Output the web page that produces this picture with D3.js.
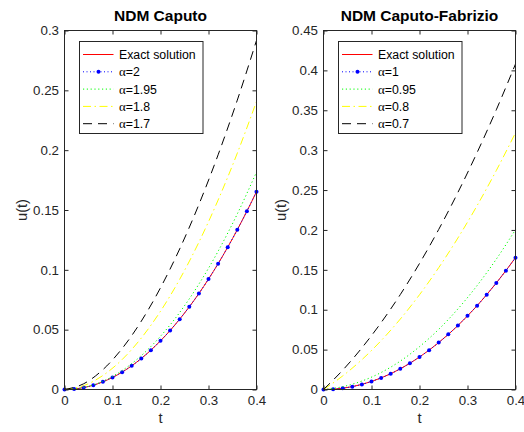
<!DOCTYPE html>
<html><head><meta charset="utf-8">
<script src="https://cdn.jsdelivr.net/npm/d3@7"></script>
<style>
body{margin:0;background:#fff}
svg{display:block}
text{font-family:"Liberation Sans",Arial,Helvetica,sans-serif}
</style>
</head><body>
<svg id="chart" width="524" height="432"></svg>
<script>
// ---------- data ----------
const tFine = [0,0.02,0.04,0.06,0.08,0.10,0.12,0.14,0.16,0.18,0.20,0.22,0.24,0.26,0.28,0.30,0.32,0.34,0.36,0.38,0.40];
const tCoarse = [0,0.04,0.08,0.12,0.16,0.20,0.24,0.28,0.32,0.36,0.40];

const exactSolution = [0,0.0004,0.0016,0.0036,0.0064,0.0101,0.0145,0.0198,0.0259,0.0329,0.0407,0.0493,0.0588,0.0691,0.0802,0.0923,0.1051,0.1189,0.1335,0.1490,0.1653];

// NDM Caputo (left)
const caputoA200 = [0,0.0004,0.0016,0.0036,0.0064,0.0101,0.0145,0.0198,0.0259,0.0329,0.0407,0.0493,0.0588,0.0691,0.0802,0.0923,0.1051,0.1189,0.1335,0.1490,0.1653];
const caputoA195 = [0,0.0017,0.0069,0.0158,0.0283,0.0445,0.0644,0.0881,0.1155,0.1467,0.1817];
const caputoA180 = [0,0.0032,0.0117,0.0250,0.0430,0.0654,0.0921,0.1231,0.1583,0.1975,0.2407];
const caputoA170 = [0,0.0048,0.0166,0.0342,0.0571,0.0850,0.1175,0.1546,0.1961,0.2418,0.2917];

// NDM Caputo-Fabrizio (right)
const cfA100 = [0,0.0004,0.0016,0.0036,0.0064,0.0101,0.0145,0.0198,0.0259,0.0329,0.0407,0.0493,0.0588,0.0691,0.0802,0.0923,0.1051,0.1189,0.1335,0.1490,0.1653];
const cfA095 = [0,0.0035,0.0106,0.0213,0.0356,0.0537,0.0754,0.1010,0.1303,0.1634,0.2003];
const cfA080 = [0,0.0170,0.0374,0.0612,0.0883,0.1188,0.1527,0.1899,0.2305,0.2745,0.3218];
const cfA070 = [0,0.0242,0.0522,0.0838,0.1190,0.1580,0.2006,0.2470,0.2970,0.3506,0.4080];

const xTicks = [0,0.1,0.2,0.3,0.4];
const xTickLabels = ["0","0.1","0.2","0.3","0.4"];
const leftYTicks = [0,0.05,0.1,0.15,0.2,0.25,0.3];
const leftYTickLabels = ["0","0.05","0.1","0.15","0.2","0.25","0.3"];
const rightYTicks = [0,0.05,0.1,0.15,0.2,0.25,0.3,0.35,0.4,0.45];
const rightYTickLabels = ["0","0.05","0.1","0.15","0.2","0.25","0.3","0.35","0.4","0.45"];

const leftLegend = ["Exact solution","=2","=1.95","=1.8","=1.7"];
const rightLegend = ["Exact solution","=1","=0.95","=0.8","=0.7"];

// ---------- drawing ----------
const svg = d3.select("#chart");
const axisColor = "#262626";
const styles = [
  {stroke:"#ff0000", dash:null, marker:false},
  {stroke:"#0000ff", dash:"1,2.5", marker:true},
  {stroke:"#00ff00", dash:"1.2,2.6", marker:false},
  {stroke:"#ffff00", dash:"8,3.5,1.5,3.5", marker:false},
  {stroke:"#000000", dash:"9,6", marker:false}
];

const panels = [
  {title:"NDM Caputo", x0:64.5, x1:256.5, yMax:0.3, yTicks:leftYTicks, yLabels:leftYTickLabels,
   series:[[tFine,exactSolution],[tFine,caputoA200],[tCoarse,caputoA195],[tCoarse,caputoA180],[tCoarse,caputoA170]],
   legend:leftLegend, legX:79.5},
  {title:"NDM Caputo-Fabrizio", x0:323.5, x1:515.5, yMax:0.45, yTicks:rightYTicks, yLabels:rightYTickLabels,
   series:[[tFine,exactSolution],[tFine,cfA100],[tCoarse,cfA095],[tCoarse,cfA080],[tCoarse,cfA070]],
   legend:rightLegend, legX:338.5}
];

const yTop = 30.5, yBot = 389.5;
const tickFont = "13.3px";

panels.forEach(p => {
  const x = d3.scaleLinear().domain([0,0.4]).range([p.x0,p.x1]);
  const y = d3.scaleLinear().domain([0,p.yMax]).range([yBot,yTop]);
  const g = svg.append("g");

  g.append("rect").attr("x",p.x0).attr("y",yTop).attr("width",p.x1-p.x0).attr("height",yBot-yTop).attr("fill","#fff");

  // lines
  p.series.forEach((s,i) => {
    const pts = s[0].map((t,k)=>[t,s[1][k]]);
    const line = d3.line().x(d=>x(d[0])).y(d=>y(d[1])).curve(d3.curveMonotoneX);
    g.append("path").attr("d",line(pts)).attr("fill","none")
      .attr("stroke",styles[i].stroke).attr("stroke-width",1)
      .attr("stroke-dasharray",styles[i].dash);
    if (styles[i].marker) {
      g.selectAll(null).data(pts).enter().append("circle")
        .attr("cx",d=>x(d[0])).attr("cy",d=>y(d[1])).attr("r",2)
        .attr("fill",styles[i].stroke);
    }
  });

  // axes (ticks inward)
  const fmtX = (d)=>xTickLabels[xTicks.indexOf(d)];
  const fmtY = (d)=>p.yLabels[p.yTicks.indexOf(d)];
  const ax = g.append("g").attr("transform",`translate(0,${yBot})`)
    .call(d3.axisBottom(x).tickValues(xTicks).tickFormat(fmtX).tickSizeInner(-4).tickSizeOuter(0).tickPadding(6));
  const axT = g.append("g").attr("transform",`translate(0,${yTop})`)
    .call(d3.axisTop(x).tickValues(xTicks).tickFormat("").tickSizeInner(-4).tickSizeOuter(0));
  const ay = g.append("g").attr("transform",`translate(${p.x0},0)`)
    .call(d3.axisLeft(y).tickValues(p.yTicks).tickFormat(fmtY).tickSizeInner(-4).tickSizeOuter(0).tickPadding(5.5));
  const ayR = g.append("g").attr("transform",`translate(${p.x1},0)`)
    .call(d3.axisRight(y).tickValues(p.yTicks).tickFormat("").tickSizeInner(-4).tickSizeOuter(0));
  [ax,axT,ay,ayR].forEach(a=>{
    a.select(".domain").remove();
    a.selectAll("line").attr("stroke",axisColor);
    a.selectAll("text").attr("fill",axisColor).style("font-size",tickFont).style("font-family",'"Liberation Sans",Arial,sans-serif');
  });
  g.append("rect").attr("x",p.x0).attr("y",yTop).attr("width",p.x1-p.x0).attr("height",yBot-yTop)
    .attr("fill","none").attr("stroke",axisColor).attr("stroke-width",1);

  // title
  g.append("text").attr("x",(p.x0+p.x1)/2).attr("y",21).attr("text-anchor","middle")
    .style("font-size","15.5px").style("font-weight","bold").attr("fill","#000").text(p.title);
  // x label
  g.append("text").attr("x",(p.x0+p.x1)/2).attr("y",423).attr("text-anchor","middle")
    .style("font-size","14.7px").attr("fill",axisColor).text("t");
  // y label
  g.append("text").attr("transform",`translate(${p.x0-38},${(yTop+yBot)/2}) rotate(-90)`).attr("text-anchor","middle")
    .style("font-size","14.7px").attr("fill",axisColor).text("u(t)");

  // legend
  const lx = p.legX, ly = 41.5, lw = 123.5, lh = 92;
  const lg = g.append("g");
  lg.append("rect").attr("x",lx).attr("y",ly).attr("width",lw).attr("height",lh)
    .attr("fill","#fff").attr("stroke",axisColor).attr("stroke-width",1);
  p.legend.forEach((lab,i)=>{
    const cy = 54.5 + i*17.3;
    lg.append("line").attr("x1",lx+3.5).attr("x2",lx+34).attr("y1",cy).attr("y2",cy)
      .attr("stroke",styles[i].stroke).attr("stroke-width",1).attr("stroke-dasharray",styles[i].dash);
    if (styles[i].marker) lg.append("circle").attr("cx",lx+19).attr("cy",cy).attr("r",2).attr("fill",styles[i].stroke);
    const tx = lg.append("text").attr("x",lx+39.5).attr("y",cy+4.5).style("font-size","12.3px").attr("fill","#000");
    if (i===0) tx.text(lab);
    else {
      tx.append("tspan").style("font-family",'"Liberation Serif","Times New Roman",serif').style("font-size","13px").text("\u03b1");
      tx.append("tspan").text(lab);
    }
  });
});
</script>
</body></html>
